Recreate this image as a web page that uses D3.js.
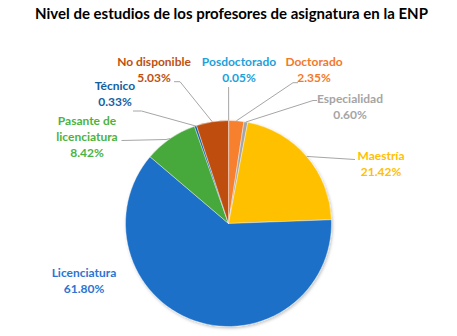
<!DOCTYPE html>
<html><head><meta charset="utf-8">
<script src="https://cdn.jsdelivr.net/npm/d3@7"></script>
<style>
html,body{margin:0;padding:0;background:#fff;}
svg text{font-family:Lato,"Open Sans","Liberation Sans",sans-serif;font-weight:bold;}
</style></head>
<body>
<svg id="chart" width="457" height="336"></svg>
<script>
const title = "Nivel de estudios de los profesores de asignatura en la ENP";
const categories = ["Posdoctorado","Doctorado","Especialidad","Maestría","Licenciatura","Pasante de licenciatura","Técnico","No disponible"];
const values = [0.05, 2.35, 0.60, 21.42, 61.80, 8.42, 0.33, 5.03];
const valueLabels = ["0.05%","2.35%","0.60%","21.42%","61.80%","8.42%","0.33%","5.03%"];
const sliceColors = ["#2AA5E3","#F7802F","#A5A5A5","#FFC000","#1B6FC8","#47A83B","#0D5CA6","#BF4D0C"];
const textColors  = ["#22A0DC","#F4782A","#A5A5A5","#FFC000","#2C74CF","#4CB340","#14609F","#C0500F"];
// label layout: [centerX, firstBaselineY, lines]
const labelLines = [["Posdoctorado"],["Doctorado"],["Especialidad"],["Maestría"],["Licenciatura"],["Pasante de","licenciatura"],["Técnico"],["No disponible"]];
const labelPos = [[239,66],[314,66],[350,103],[381,160],[84,277],[87,125],[115,90],[154,66]];
// leader line end points (polyline near the label), null = none
const leaderEnds = [
  [[228.6,87]],
  [[293,82.7],[298,82.7]],
  [[313,100.5],[317,100.5]],
  [[355,159.5]],
  null,
  [[166,139.5],[121.5,140.5]],
  [[141.5,111],[133,111]],
  [[180,81.7],[174,81.7]]
];

const svg = d3.select("#chart");
const cx = 228.5, cy = 223.5, r = 103;

svg.append("text").attr("x", 231.5).attr("y", 19).attr("text-anchor","middle")
  .attr("font-size", 15).attr("fill","#000").text(title);

const defs = svg.append("defs");
const f = defs.append("filter").attr("id","sh").attr("x","-20%").attr("y","-20%").attr("width","140%").attr("height","140%");
f.append("feDropShadow").attr("dx",1).attr("dy",1.5).attr("stdDeviation",1.5).attr("flood-color","#000").attr("flood-opacity",0.25);

const pie = d3.pie().sort(null).value(d => d)(values);
const arc = d3.arc().innerRadius(0).outerRadius(r);

const g = svg.append("g").attr("transform",`translate(${cx},${cy})`);
g.append("g").attr("filter","url(#sh)").selectAll("path").data(pie).join("path")
  .attr("d", arc).attr("fill", (d,i) => sliceColors[i])
  .attr("stroke","#fff").attr("stroke-width",0.4);

// leader lines
pie.forEach((d,i) => {
  if (!leaderEnds[i]) return;
  const a = (d.startAngle + d.endAngle)/2;
  const p0 = [cx + r*Math.sin(a), cy - r*Math.cos(a)];
  const pts = [p0, ...leaderEnds[i]];
  svg.append("path").attr("d", d3.line()(pts)).attr("fill","none")
    .attr("stroke","#A6A6A6").attr("stroke-width",1);
});

// labels
categories.forEach((c,i) => {
  const t = svg.append("text").attr("text-anchor","middle").attr("font-size",12)
    .attr("fill", textColors[i]);
  const lines = [...labelLines[i], valueLabels[i]];
  lines.forEach((ln,k) => {
    t.append("tspan").attr("x", labelPos[i][0]).attr("y", labelPos[i][1] + k*16).text(ln);
  });
});
</script>
</body></html>
